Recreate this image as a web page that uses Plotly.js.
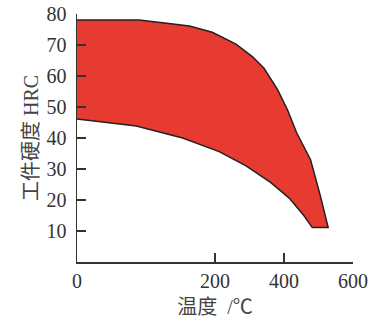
<!DOCTYPE html>
<html>
<head>
<meta charset="utf-8">
<script src="https://cdn.plot.ly/plotly-3.0.1.min.js"></script>
<style>html,body{margin:0;padding:0;background:#fff;}#chart{width:381px;height:321px;}</style>
</head>
<body>
<div id="chart"></div>
<script>
// Upper boundary of the hardness band (temperature °C, hardness HRC)
const upperTemp = [0, 90, 124, 163, 196, 261, 309, 342, 381, 410, 437, 477, 506, 528];
const upperHRC  = [78.1, 78.1, 77.2, 76.1, 74.1, 70.3, 66.2, 62.5, 55.7, 49.1, 41.6, 33.0, 21.1, 11.1];
// Lower boundary of the hardness band
const lowerTemp = [0, 86, 120, 153, 212, 290, 362, 415, 458, 482];
const lowerHRC  = [46.1, 43.9, 41.8, 40.0, 35.6, 31.0, 25.6, 20.6, 14.9, 11.1];
// Axis ticks
const xTickTemps  = [0, 200, 400, 600];
const xTickLabels = ['0', '200', '400', '600'];
const yTickVals   = [10, 20, 30, 40, 50, 60, 70, 80];

// The original x axis is drawn at full scale up to 200 °C and at half scale beyond
function axisPos(t) { return t <= 200 ? t : 200 + (t - 200) / 2; }

const polyX = upperTemp.map(axisPos).concat(lowerTemp.slice().reverse().map(axisPos));
const polyY = upperHRC.concat(lowerHRC.slice().reverse());

const serif = '"Liberation Serif", "Times New Roman", "Noto Sans CJK SC", serif';
const trace = {
  x: polyX, y: polyY, type: 'scatter', mode: 'lines',
  fill: 'toself', fillcolor: '#e73a30',
  line: {color: '#222', width: 1.5},
  hoverinfo: 'skip', showlegend: false
};

const layout = {
  width: 381, height: 321,
  margin: {l: 77, r: 28, t: 14, b: 59},
  paper_bgcolor: '#fff', plot_bgcolor: '#fff',
  font: {family: serif, color: '#333', size: 20},
  xaxis: {
    range: [0, axisPos(600)],
    tickvals: xTickTemps.map(axisPos), ticktext: xTickLabels,
    ticks: 'inside', ticklen: 9, tickwidth: 1.5, tickcolor: '#333',
    showline: true, linecolor: '#333', linewidth: 1.5,
    showgrid: false, zeroline: false,
    tickfont: {family: serif, size: 20, color: '#333'},
    title: {text: '温度  /℃', font: {family: serif, size: 20, color: '#444'}, standoff: 9}
  },
  yaxis: {
    range: [0, 80],
    tickvals: yTickVals,
    ticks: 'inside', ticklen: 9, tickwidth: 1.5, tickcolor: '#333',
    ticklabelstandoff: 5,
    showline: true, linecolor: '#333', linewidth: 1.5,
    showgrid: false, zeroline: false,
    tickfont: {family: serif, size: 20, color: '#333'},
    title: {text: '工件硬度 HRC', font: {family: serif, size: 20, color: '#444'}, standoff: 2}
  }
};

Plotly.newPlot('chart', [trace], layout, {staticPlot: true, displayModeBar: false});
</script>
</body>
</html>
